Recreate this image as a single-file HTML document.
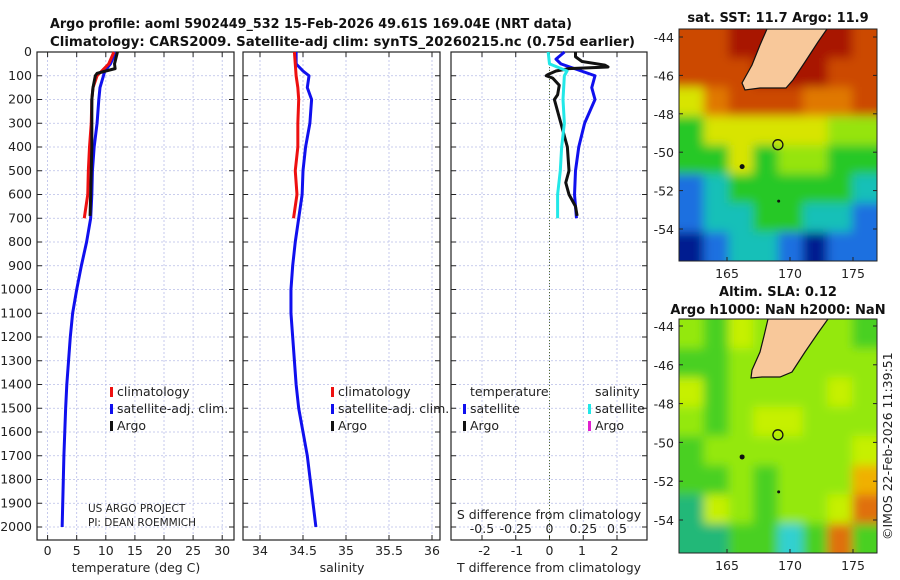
<!DOCTYPE html>
<html><head><meta charset="utf-8">
<style>
html,body{margin:0;padding:0;background:#fff;}
svg{display:block;font-family:"DejaVu Sans","Liberation Sans",sans-serif;}
.t{font-size:12.5px;fill:#222;}
.b{font-weight:bold;font-size:13px;fill:#111;}
</style></head>
<body>
<svg id="fig" width="900" height="580" viewBox="0 0 900 580">
<text class="b" x="50" y="28" textLength="522" lengthAdjust="spacingAndGlyphs">Argo profile: aoml 5902449_532 15-Feb-2026 49.61S 169.04E (NRT data)</text>
<text class="b" x="50" y="46" textLength="585" lengthAdjust="spacingAndGlyphs">Climatology: CARS2009. Satellite-adj clim: synTS_20260215.nc (0.75d earlier)</text>
<text class="b" x="778" y="22" text-anchor="middle">sat. SST: 11.7 Argo: 11.9</text>
<text class="b" x="778" y="296" text-anchor="middle">Altim. SLA: 0.12</text>
<text class="b" x="778" y="314" text-anchor="middle">Argo h1000: NaN h2000: NaN</text>
<text class="t" x="0" y="0" transform="translate(892,540) rotate(-90)">©IMOS 22-Feb-2026 11:39:51</text>
<g id="plots"></g>
</svg>
<script>
// ---- data ----
const depthsArgoT = [0,20,50,70,80,90,100,150,200,300,400,500,600,690];
const tempArgo    = [12,11.8,11.5,11.6,10,8.5,8.2,7.8,7.6,7.6,7.6,7.5,7.4,7.3];
const depthsClim  = [0,50,100,150,200,300,400,500,600,700];
const tempClim    = [11.4,10.5,8.5,7.8,7.6,7.5,7.2,7.0,6.9,6.3];
const salClim     = [34.40,34.41,34.42,34.44,34.45,34.44,34.44,34.41,34.43,34.39];
const depthsSat   = [0,50,80,100,150,200,300,400,500,600,700,800,900,1000,1100,1200,1300,1400,1500,1600,1700,2000];
const tempSat     = [11.7,10.8,9.8,9.6,9.0,8.8,8.5,8.0,7.7,7.6,7.4,6.7,5.8,5.0,4.3,3.9,3.6,3.3,3.1,2.95,2.8,2.5];
const salSat      = [34.42,34.42,34.50,34.57,34.55,34.60,34.58,34.53,34.50,34.49,34.45,34.41,34.38,34.36,34.36,34.38,34.40,34.42,34.45,34.50,34.55,34.65];
const depthsSalA  = [0,60,80,100,150,200,300,400,500,600,700];
const salArgo     = [34.40,34.40,34.41,34.42,34.44,34.45,34.44,34.44,34.41,34.43,34.39];
const depthsDiff  = [0,30,50,100,150,200,300,400,500,600,700];
const tDiffSat    = [0.46,0.2,0.35,1.4,1.3,1.4,1.08,0.9,0.8,0.77,0.83];
const depthsDiffA = [0,20,40,55,63,70,80,95,100,110,140,180,200,300,400,500,550,600,650,690];
const tDiffArgo   = [0.8,0.8,1.0,1.7,1.8,0.6,0.2,-0.05,-0.1,0.1,0.3,0.25,0.15,0.35,0.55,0.6,0.5,0.6,0.8,0.85];
const depthsSD    = [0,50,80,100,200,300,400,500,600,700];
const sDiffSat    = [-0.01,0,0.13,0.11,0.1,0.11,0.09,0.08,0.06,0.06];
const depthTicks  = [0,100,200,300,400,500,600,700,800,900,1000,1100,1200,1300,1400,1500,1600,1700,1800,1900,2000];
const tempTicks   = [0,5,10,15,20,25,30];
const salTicks    = [34,34.5,35,35.5,36];
const salTickLbl  = ["34","34.5","35","35.5","36"];
const tdTicks     = [-2,-1,0,1,2];
const sdTicks     = [-0.5,-0.25,0,0.25,0.5];
const sdTickLbl   = ["-0.5","-0.25","0","0.25","0.5"];
const latTicks    = [-44,-46,-48,-50,-52,-54];
const lonTicks    = [165,170,175];
const sstGrid = ["OORLLLRO","OOORLROO","yoOOOooO","Gyyyyygg","GGyGggGG","bCGGGGGC","bCCGGCCb","BbCCbBbb"];
const slaGrid = ["gGyggLLG","GGgLLLgg","yGggggyg","gGgyyggg","Gggggggy","GGgGgggo","TygGggyO","TTGGCGOG"];

// ---- scales ----
const Y0=52, YS=475/2000, YB=540;
const yD = d => Y0 + d*YS;
const xT = t => 47.6 + t*5.82;
const xS = s => 260 + (s-34)*86;
const xTD = v => 549.5 + v*32.5;
const xSD = v => 549.5 + v*135;
const xLon = l => 727 + (l-165)*12.6;
const NS='http://www.w3.org/2000/svg';
const root=document.getElementById('plots');
function mk(tag,attrs,parent){const e=document.createElementNS(NS,tag);for(const k in attrs)e.setAttribute(k,attrs[k]);(parent||root).appendChild(e);return e;}
function txt(x,y,s,anchor,cls,parent){const e=mk('text',{x:x,y:y,'text-anchor':anchor||'start',class:cls||'t'},parent);e.textContent=s;return e;}

function panel(x0,x1,name,vgrid,xfun){
  const g=mk('g',{});
  
  
  depthTicks.forEach(d=>{mk('line',{x1:x0,x2:x1,y1:yD(d),y2:yD(d),stroke:'#b8bde8','stroke-width':0.8,'stroke-dasharray':'2,2'},g);
    mk('line',{x1:x0,x2:x0+5,y1:yD(d),y2:yD(d),stroke:'#222'},g);mk('line',{x1:x1-5,x2:x1,y1:yD(d),y2:yD(d),stroke:'#222'},g);});
  vgrid.forEach(v=>{const x=xfun(v);mk('line',{x1:x,x2:x,y1:Y0,y2:YB,stroke:'#b8bde8','stroke-width':0.8,'stroke-dasharray':'2,2'},g);
    mk('line',{x1:x,x2:x,y1:YB-5,y2:YB,stroke:'#222'},g);mk('line',{x1:x,x2:x,y1:Y0,y2:Y0+5,stroke:'#222'},g);});
  mk('rect',{x:x0,y:Y0,width:x1-x0,height:YB-Y0,fill:'none',stroke:'#222','stroke-width':1.2},g);
  return g;
}
function line(g,xs,ds,xf,color,name,w){
  const p=mk('polyline',{points:xs.map((v,i)=>xf(v)+','+yD(ds[i])).join(' '),fill:'none',stroke:color,'stroke-width':w||3,'stroke-linejoin':'round'},g);
  
  
}
function legend(g,x,y,color,label){
  mk('rect',{x:x,y:y-9,width:3,height:10,fill:color},g);
  const t=txt(x+7,y,label,'start','t',g);
  
  
}

// panel 1
const p1=panel(37,234,'temperature-panel',tempTicks,xT);
depthTicks.forEach(d=>txt(32,yD(d)+4,String(d),'end','t',p1));
tempTicks.forEach(t=>txt(xT(t),555,String(t),'middle','t',p1));
txt(136,572,'temperature (deg C)','middle','t',p1);
line(p1,tempSat,depthsSat,xT,'#1010ee','temp-satellite-adj-line');
line(p1,tempClim,depthsClim,xT,'#ee1010','temp-climatology-line');
line(p1,tempArgo,depthsArgoT,xT,'#111','temp-argo-line');
legend(p1,110,396,'#ee1010','climatology');
legend(p1,110,413,'#1010ee','satellite-adj. clim.');
legend(p1,110,430,'#111','Argo');
txt(88,512,'US ARGO PROJECT','start','t',p1).setAttribute('style','font-size:10.5px');
txt(88,526,'PI: DEAN ROEMMICH','start','t',p1).setAttribute('style','font-size:10.5px');

// panel 2
const p2=panel(243,440,'salinity-panel',salTicks,xS);
salTicks.forEach((s,i)=>txt(xS(s),555,salTickLbl[i],'middle','t',p2));
txt(342,572,'salinity','middle','t',p2);
line(p2,salSat,depthsSat,xS,'#1010ee','sal-satellite-adj-line');
line(p2,salClim,depthsClim,xS,'#ee1010','sal-climatology-line');
line(p2,salArgo,depthsSalA,xS,'#111','sal-argo-line',0.01);
legend(p2,331,396,'#ee1010','climatology');
legend(p2,331,413,'#1010ee','satellite-adj. clim.');
legend(p2,331,430,'#111','Argo');

// panel 3
const p3=panel(451,647,'difference-panel',sdTicks,xSD);
mk('line',{x1:xTD(0),x2:xTD(0),y1:Y0,y2:YB,stroke:'#556b2f','stroke-width':1,'stroke-dasharray':'1,2'},p3);
tdTicks.forEach(t=>txt(xTD(t),555,String(t),'middle','t',p3));
txt(549,572,'T difference from climatology','middle','t',p3);
txt(549,519,'S difference from climatology','middle','t',p3);
sdTicks.forEach((s,i)=>txt(xSD(s),533,sdTickLbl[i],'middle','t',p3));
line(p3,tDiffSat,depthsDiff,xTD,'#1010ee','tdiff-satellite-line');
line(p3,tDiffArgo,depthsDiffA,xTD,'#111','tdiff-argo-line');
line(p3,sDiffSat,depthsSD,xSD,'#22e8e8','sdiff-satellite-line');
txt(470,396,'temperature','start','t',p3);
txt(595,396,'salinity','start','t',p3);
legend(p3,463,413,'#1010ee','satellite');
legend(p3,463,430,'#111','Argo');
legend(p3,588,413,'#22e8e8','satellite');
legend(p3,588,430,'#e020d0','Argo');

// maps
const COL={R:'#a81200',O:'#cc4a00',o:'#e07800',y:'#d8e400',Y:'#f0d000',g:'#96e410',G:'#28c828',C:'#18c0b8',b:'#1a70e0',B:'#061a90',T:'#20b878',L:'#f8c89a'};
const COL2=Object.assign({},COL,{y:'#c6f000',g:'#94e80e',G:'#48d020',C:'#30d0d0',o:'#f0b000',O:'#e07010',R:'#94e80e'});
function map(top,bot,grid,cols,name,land,latY){
  const g=mk('g',{});
  
  
  const x0=679,x1=877,id='c'+name;
  const cp=mk('clipPath',{id:id},g);mk('rect',{x:x0,y:top,width:x1-x0,height:bot-top},cp);
  const f=mk('filter',{id:'f'+name,x:'-10%',y:'-10%',width:'120%',height:'120%'},g);mk('feGaussianBlur',{stdDeviation:5},f);
  const inner=mk('g',{'clip-path':'url(#'+id+')'},g);
  const blur=mk('g',{filter:'url(#f'+name+')'},inner);
  const cw=(x1-x0)/8,ch=(bot-top)/8;
  grid.forEach((row,r)=>row.split('').forEach((c,k)=>{
    const cell=mk('rect',{x:x0+k*cw-(k==0?15:0),y:top+r*ch-(r==0?15:0),width:cw+(k==0||k==7?15:0)+0.5,height:ch+(r==0||r==7?15:0)+0.5,fill:cols[c==='L'?'R':c]},blur);
    
    
  }));
  mk('polygon',{points:land,fill:'#f8c89a',stroke:'#111','stroke-width':1.2},inner);
  const ay=latY(-49.61);
  mk('circle',{cx:xLon(169.04),cy:ay,r:5,fill:'none',stroke:'#111','stroke-width':1.3},inner);
  mk('circle',{cx:xLon(166.2),cy:latY(-50.75),r:2.5,fill:'#111'},inner);
  mk('circle',{cx:xLon(169.1),cy:latY(-52.55),r:1.5,fill:'#111'},inner);
  mk('rect',{x:x0,y:top,width:x1-x0,height:bot-top,fill:'none',stroke:'#222','stroke-width':1},g);
  latTicks.forEach((l,i)=>{const y=latY(l);txt(674,y+5,String(l),'end','t',g);mk('line',{x1:x1-4,x2:x1,y1:y,y2:y,stroke:'#222'},g);mk('line',{x1:x0,x2:x0+4,y1:y,y2:y,stroke:'#222'},g);});
  lonTicks.forEach(l=>{const x=xLon(l);txt(x,bot+17,String(l),'middle','t',g);mk('line',{x1:x,x2:x,y1:bot-4,y2:bot,stroke:'#222'},g);});
}
map(29,261,sstGrid,COL,'sst-map','767,29 827,29 818,42 805,62 793,80 786,88 760,88 745,90 742,83 752,65 760,45',l=>37+(-44-l)*19.2);
map(319,553,slaGrid,COL2,'sla-map','768,319 828,319 818,333 805,352 792,372 780,377 762,377 751,378 752,370 760,352 764,336',l=>326+(-44-l)*19.4);
</script>
</body></html>
